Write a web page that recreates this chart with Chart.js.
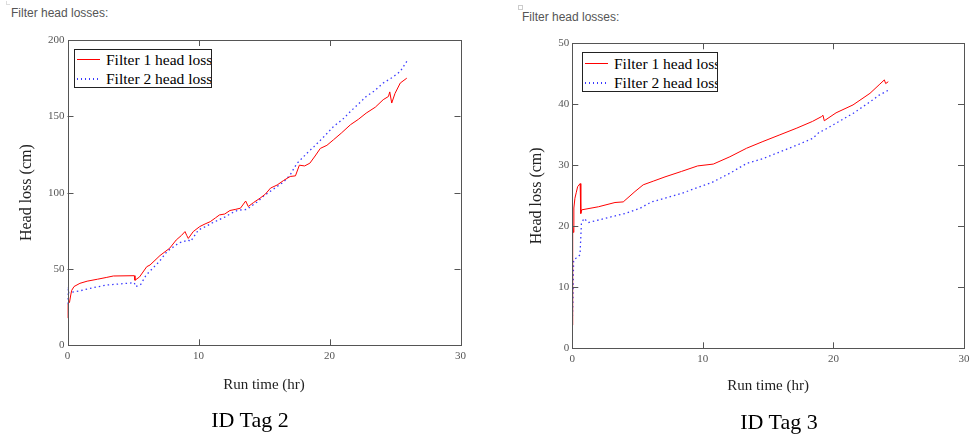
<!DOCTYPE html>
<html>
<head>
<meta charset="utf-8">
<script src="https://cdn.jsdelivr.net/npm/chart.js@4"></script>
<style>
  body { margin: 0; background: #fff; width: 974px; height: 437px; position: relative; overflow: hidden; }
  .panel { position: absolute; top: 0; width: 487px; height: 437px; }
  .caption { position: absolute; font: 12px "Liberation Sans", Arial, sans-serif; color: #555; white-space: nowrap; }
  .tag { position: absolute; width: 200px; text-align: center; font: 22px/22px "Liberation Serif", "Times New Roman", serif; color: #000; }
  .mark { position: absolute; width: 3px; height: 3px; border: 1px solid #ccc; }
  .legend { position: absolute; box-sizing: border-box; border: 1px solid #222; background: #fff; overflow: hidden;
            font: 15.5px "Liberation Serif", "Times New Roman", serif; color: #000; }
  .legend .row { position: absolute; left: 0; height: 19px; line-height: 19px; white-space: nowrap; }
  .legend .sample { position: absolute; left: 2px; top: 9px; width: 23px; height: 1px; }
  .legend .label { position: absolute; left: 31px; top: 0; }
</style>
</head>
<body>
<div class="mark" style="left:6px; top:1px; border-top:none; border-right:none; border-left-color:#ddd; border-bottom-color:#ddd;"></div>
<div class="caption" style="left:11px; top:6px;">Filter head losses:</div>
<div class="mark" style="left:518px; top:5px;"></div>
<div class="caption" style="left:522px; top:10px;">Filter head losses:</div>

<div class="panel" style="left:0;"><canvas id="tag2" width="487" height="437"></canvas></div>
<div class="panel" style="left:487px;"><canvas id="tag3" width="487" height="437"></canvas></div>

<div class="tag" style="left:150px; top:409px;">ID Tag 2</div>
<div class="tag" style="left:679px; top:411px;">ID Tag 3</div>

<div class="legend" style="left:74px; top:49px; width:138px; height:39px;">
  <div class="row" style="top:0px;"><div class="sample" style="background:#f00;"></div><span class="label">Filter 1 head loss</span></div>
  <div class="row" style="top:19px;"><div class="sample" style="height:1.5px; background:repeating-linear-gradient(90deg,#3a3aff 0 1.5px,transparent 1.5px 4px);"></div><span class="label">Filter 2 head loss</span></div>
</div>
<div class="legend" style="left:582px; top:52px; width:136px; height:40px;">
  <div class="row" style="top:1px;"><div class="sample" style="background:#f00;"></div><span class="label">Filter 1 head loss</span></div>
  <div class="row" style="top:20px;"><div class="sample" style="height:1.5px; background:repeating-linear-gradient(90deg,#3a3aff 0 1.5px,transparent 1.5px 4px);"></div><span class="label">Filter 2 head loss</span></div>
</div>

<script>
// ID Tag 2 - filter 1 (red)
const tag2Time1 = [0, 0.02, 0.15, 0.25, 0.32, 0.5, 0.95, 1.5, 2.3, 3.0, 3.5, 5.1, 5.15, 5.5, 6.05, 6.3, 7.06, 7.8,
  8.3, 8.7, 8.97, 9.1, 9.22, 9.6, 10.1, 10.5, 10.9, 11.3, 11.6, 12.0, 12.4, 12.8, 13.2, 13.6, 13.8, 14.2, 14.7,
  15.1, 15.5, 16.0, 16.5, 17.0, 17.4, 17.7, 18.1, 18.5, 18.9, 19.3, 19.8, 20.3, 20.9, 21.6, 22.2, 22.8, 23.5,
  24.1, 24.5, 24.6, 24.75, 25.0, 25.4, 25.9];
const tag2Loss1 = [18, 27, 28, 33, 36, 38.5, 40.6, 42, 43.3, 44.5, 45.4, 45.6, 42.6, 44.8, 51.5, 52.6, 58.8, 63.6,
  69, 72, 74.5, 72, 70, 74.5, 77.8, 79.5, 81, 83.5, 85.4, 86, 88.3, 89, 89.8, 94.5, 90.9, 93.5, 96.4,
  99, 103, 105, 108, 110.6, 111, 118, 117.5, 119.3, 124, 129, 131, 134.6, 139, 144.5, 148, 152.1, 156,
  160.9, 163, 166, 158.7, 165, 171.8, 175];
// ID Tag 2 - filter 2 (blue)
const tag2Time2 = [0, 0.05, 0.1, 0.5, 1.0, 2.0, 3.0, 4.5, 5.1, 5.2, 5.6, 6.0, 7.0, 7.6, 8.5, 9.2, 9.4, 10.0, 10.6,
  11.0, 11.5, 12.0, 12.5, 13.0, 13.7, 14.0, 14.5, 15.0, 15.5, 16.0, 16.5, 17.0, 17.5, 18.3, 18.8, 19.5, 20.3,
  21.0, 21.6, 22.2, 22.8, 23.4, 24.1, 24.8, 25.4, 25.9];
const tag2Loss2 = [27, 38.4, 34.5, 35, 35.8, 37.8, 39.5, 40.6, 41, 38.4, 40, 46, 54.8, 61.5, 67, 69, 68, 75.6, 78,
  80, 82, 84, 86.5, 88.5, 89, 91, 94, 98, 101, 104, 107, 111.7, 119, 126, 130, 136, 143.3,
  148, 153.2, 158, 163, 166.5, 171.8, 175.5, 179.4, 186];

// ID Tag 3 - filter 1 (red)
const tag3Time1 = [0, 0.03, 0.08, 0.12, 0.2, 0.3, 0.41, 0.6, 0.64, 0.66, 0.72, 2.0, 3.27, 3.9, 4.8, 5.43, 6.2, 7.1,
  8.37, 9.6, 10.8, 12.07, 13.35, 14.6, 15.9, 17.2, 18.4, 19.1, 19.2, 19.3, 20.2, 21.5, 22.8, 23.5, 23.9, 24.0, 24.2];
const tag3Loss1 = [3.8, 20, 19, 23, 24.6, 25.5, 26.5, 27, 27, 22.1, 22.7, 23.2, 23.9, 24.0, 25.7, 26.8, 27.4, 28.1,
  29, 29.9, 30.2, 31.4, 32.8, 33.9, 35, 36.1, 37.2, 38.0, 38.2, 37.3, 38.6, 39.9, 41.8, 43.2, 44, 43.4, 43.7];
// ID Tag 3 - filter 2 (blue)
const tag3Time2 = [0, 0.05, 0.1, 0.3, 0.59, 0.7, 0.9, 1.22, 2.5, 4.03, 5.18, 6.07, 7.1, 8.37, 10.7, 12.07, 13.35,
  14.6, 15.9, 17.2, 18.4, 18.9, 19.3, 20.2, 21.5, 22.8, 23.5, 24.2];
const tag3Loss2 = [4.5, 8, 14.5, 14.8, 15.3, 20.5, 21.3, 20.6, 21.3, 22.1, 22.95, 24, 24.6, 25.4, 27.2, 28.7, 30.3,
  31.1, 32.2, 33.3, 34.4, 35.4, 35.8, 36.9, 38.5, 40.4, 41.5, 42.3];

const serif = "'Liberation Serif', 'Times New Roman', serif";

function toPoints(xs, ys) {
  return xs.map((x, i) => ({ x: x, y: ys[i] }));
}

// box round the plot, with inward tick marks on all four sides
const frameTicks = {
  id: "frameTicks",
  afterDatasetsDraw(chart) {
    const { ctx, chartArea: a, scales: { x, y } } = chart;
    ctx.save();
    ctx.strokeStyle = "#555";
    ctx.lineWidth = 1;
    ctx.beginPath();
    x.ticks.forEach(t => {
      if (t.value <= x.min || t.value >= x.max) return;
      const px = Math.round(x.getPixelForValue(t.value)) + 0.5;
      ctx.moveTo(px, a.bottom); ctx.lineTo(px, a.bottom - 6);
      ctx.moveTo(px, a.top); ctx.lineTo(px, a.top + 6);
    });
    y.ticks.forEach(t => {
      if (t.value <= y.min || t.value >= y.max) return;
      const py = Math.round(y.getPixelForValue(t.value)) + 0.5;
      ctx.moveTo(a.left, py); ctx.lineTo(a.left + 6, py);
      ctx.moveTo(a.right, py); ctx.lineTo(a.right - 6, py);
    });
    ctx.stroke();
    ctx.strokeRect(Math.round(a.left) + 0.5, Math.round(a.top) + 0.5,
      Math.round(a.right - a.left), Math.round(a.bottom - a.top));
    ctx.restore();
  }
};

function makeChart(id, opts) {
  const ctx = document.getElementById(id).getContext("2d");
  return new Chart(ctx, {
    type: "line",
    data: {
      datasets: [
        {
          label: "Filter 1 head loss",
          data: toPoints(opts.t1, opts.v1),
          borderColor: "#ff0000",
          borderWidth: 1,
          pointRadius: 0,
          tension: 0,
          fill: false
        },
        {
          label: "Filter 2 head loss",
          data: toPoints(opts.t2, opts.v2),
          borderColor: "#3a3aff",
          borderWidth: 1.3,
          borderDash: [1.5, 3],
          pointRadius: 0,
          tension: 0,
          fill: false
        }
      ]
    },
    options: {
      responsive: false,
      animation: false,
      events: [],
      layout: { padding: opts.padding },
      plugins: {
        legend: { display: false },
        tooltip: { enabled: false }
      },
      scales: {
        x: {
          type: "linear",
          min: 0,
          max: 30,
          afterFit: s => { s.height = opts.xHeight; },
          grid: { display: false, drawTicks: false },
          border: { display: false },
          ticks: { stepSize: 10, padding: 4, color: "#555", font: { family: serif, size: 11 } },
          title: {
            display: true,
            text: "Run time (hr)",
            color: "#222",
            font: { family: serif, size: 15 },
            padding: { top: 4, bottom: opts.xTitlePad }
          }
        },
        y: {
          min: 0,
          max: opts.yMax,
          afterFit: s => { s.width = opts.yWidth; },
          grid: { display: false, drawTicks: false },
          border: { display: false },
          ticks: { stepSize: opts.yStep, padding: 3, color: "#555", font: { family: serif, size: 11 } },
          title: {
            display: true,
            text: "Head loss (cm)",
            color: "#222",
            font: { family: serif, size: 16 },
            padding: { top: 7.5, bottom: 0 }
          }
        }
      }
    },
    plugins: [frameTicks]
  });
}

makeChart("tag2", {
  t1: tag2Time1, v1: tag2Loss1, t2: tag2Time2, v2: tag2Loss2,
  yMax: 200, yStep: 50,
  padding: { left: 10, top: 40, right: 26.5, bottom: 37.4 },
  yWidth: 57.5, xHeight: 54.3, xTitlePad: 5.6
});

makeChart("tag3", {
  t1: tag3Time1, v1: tag3Loss1, t2: tag3Time2, v2: tag3Loss2,
  yMax: 50, yStep: 10,
  padding: { left: 33, top: 43.3, right: 10, bottom: 35.7 },
  yWidth: 52.3, xHeight: 53, xTitlePad: 5.8
});
</script>
</body>
</html>
